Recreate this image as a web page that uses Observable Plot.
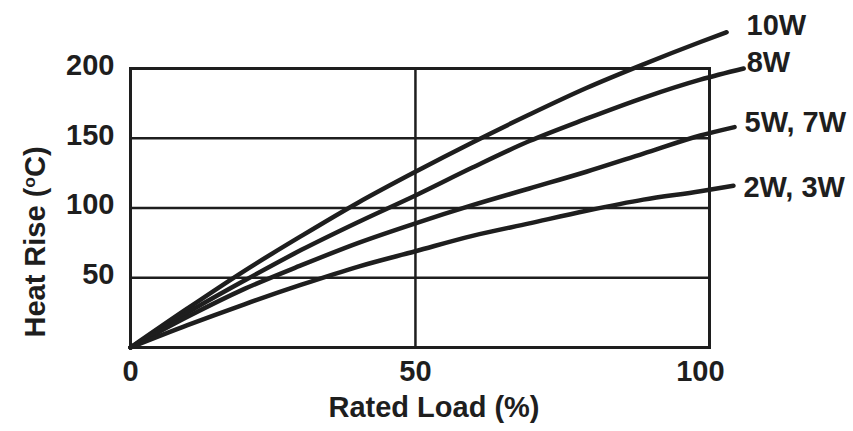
<!DOCTYPE html>
<html>
<head>
<meta charset="utf-8">
<script src="https://cdn.jsdelivr.net/npm/d3@7"></script>
<script src="https://cdn.jsdelivr.net/npm/@observablehq/plot@0.6"></script>
<style>
  html, body { margin: 0; padding: 0; background: #fff; }
</style>
</head>
<body>
<div id="chart"></div>
<script>
// Rated load (%) sample points
const loadPct = [0, 10, 20, 30, 40, 50, 60, 70, 80, 90, 100];
// Heat rise (°C) per series
const heat10W  = [0, 28, 55, 80, 104, 126, 147, 167, 186, 203, 219];
const heat8W   = [0, 25, 48, 70, 90, 109, 129, 148, 164, 179, 192];
const heat5W7W = [0, 22, 42, 59, 75, 89, 102, 114, 126, 139, 152];
const heat2W3W = [0, 16, 31, 45, 58, 69, 80, 89, 98, 106, 112];
// Where each curve ends (past 100 %)
const endLoad = [104.6, 107.6, 106, 105.8];
const endHeat = [226, 200, 158, 116];
const seriesNames = ["10W", "8W", "5W, 7W", "2W, 3W"];
const xTicks = [0, 50, 100];
const yTicks = [50, 100, 150, 200];
const xTitle = "Rated Load (%)";
const yTitle = "Heat Rise (oC)";

const heatSeries = [heat10W, heat8W, heat5W7W, heat2W3W];
const rows = seriesNames.flatMap((name, i) => [
  ...loadPct.map((x, j) => ({series: name, load: x, heat: heatSeries[i][j]})),
  {series: name, load: endLoad[i], heat: endHeat[i]}
]);

const ink = "#1e1e1e";
const fs = 29;
const labelOffset = [[20, -7], [3, -6], [10, -4], [10, 2]];

const chart = Plot.plot({
  width: 853,
  height: 431,
  marginLeft: 130,
  marginRight: 144,
  marginTop: 68,
  marginBottom: 84,
  x: {domain: [0, 101.6]},
  y: {domain: [0, 200]},
  style: {
    fontFamily: "'Liberation Sans', Arial, sans-serif",
    fontSize: fs + "px",
    fontWeight: "bold",
    color: ink,
    background: "#fff"
  },
  marks: [
    Plot.ruleY([50, 100, 150], {stroke: ink, strokeWidth: 2.5}),
    Plot.ruleX([50], {stroke: ink, strokeWidth: 2.5}),
    Plot.frame({stroke: ink, strokeWidth: 3}),
    Plot.axisX({ticks: xTicks, tickSize: 0, tickPadding: 13, label: null, fontSize: fs}),
    Plot.axisY({ticks: yTicks, tickSize: 0, tickPadding: 16, dy: -3, label: null, fontSize: fs}),
    Plot.line(rows, {x: "load", y: "heat", z: "series", stroke: ink, strokeWidth: 4.5, curve: "monotone-x"}),
    ...seriesNames.map((name, i) => Plot.text(
      [{name, load: endLoad[i], heat: endHeat[i]}],
      {x: "load", y: "heat", text: "name", textAnchor: "start", dx: labelOffset[i][0], dy: labelOffset[i][1], fill: ink, fontSize: fs}
    )),
    Plot.text([yTitle], {frameAnchor: "left", textAnchor: "middle", lineAnchor: "middle", rotate: -90, dx: -95, dy: 34, fill: ink, fontSize: fs}),
    Plot.text([xTitle], {frameAnchor: "bottom", textAnchor: "middle", lineAnchor: "middle", dx: 14, dy: 60, fill: ink, fontSize: fs})
  ]
});

d3.select(chart).selectAll("text")
  .filter(function() { return this.textContent === yTitle; })
  .each(function() {
    const t = d3.select(this);
    t.text(null);
    t.append("tspan").text("Heat Rise (");
    t.append("tspan").attr("baseline-shift", "super").attr("font-size", "60%").text("o");
    t.append("tspan").text("C)");
  });

document.getElementById("chart").appendChild(chart);
</script>
</body>
</html>
